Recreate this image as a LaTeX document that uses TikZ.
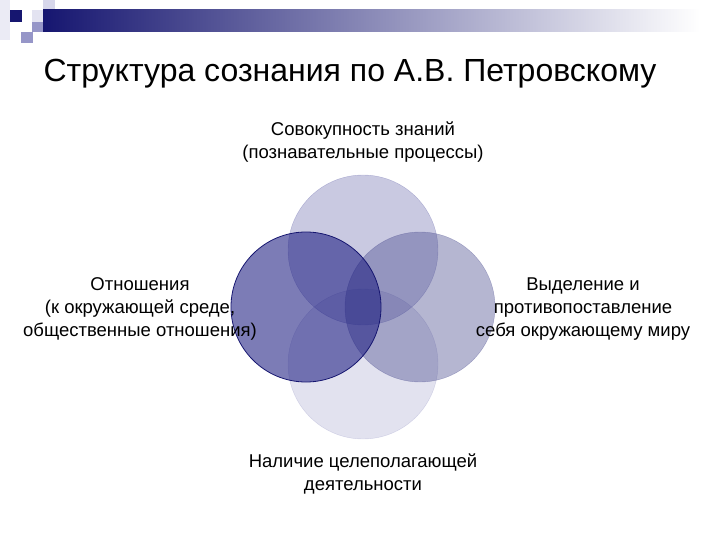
\documentclass[tikz,border=0pt]{standalone}
\usepackage{fontspec}
\setmainfont{Liberation Sans}
\definecolor{navy}{RGB}{30,30,130}
\definecolor{grnavy}{RGB}{70,72,140}
\definecolor{barnavy}{RGB}{22,22,112}
\definecolor{lav}{RGB}{150,150,200}
\definecolor{palelav}{RGB}{215,215,235}
\begin{document}
\begin{tikzpicture}[x=1pt,y=-1pt]
	\useasboundingbox (0,0) rectangle (720,540);
	
	\tikzstyle{mycircle}=[circle,
	fill=navy,
	draw=navy,
	inner sep=0pt,
	minimum size=150pt
	]
	\tikzstyle{mylabel}=[align=center,
	font=\fontsize{18.5}{23}\selectfont,
	text=black
	]
	
	% header decoration
	\fill[palelav!50] (0,0) rectangle (10,40);
	\fill[palelav] (43,0) rectangle (55,10);
	\fill[palelav!70] (32,10) rectangle (43,22);
	\fill[lav] (32,22) rectangle (43,32);
	\shade[left color=barnavy, right color=white] (43,10) rectangle (700,32);
	\fill[barnavy] (10,10) rectangle (22,22);
	\fill[lav] (21,32) rectangle (33,43);
	
	\node[font=\fontsize{32}{38}\selectfont, anchor=base] (title) at (350,82) {Структура сознания по А.В. Петровскому};
	
	\coordinate (ptop) at (363, 250);
	\coordinate (pbot) at (363, 364);
	\coordinate (pright) at (420, 307);
	\coordinate (pleft) at (306, 307);
	
	\node[mycircle, fill opacity=0.24, draw opacity=0.25] (top) at (ptop) {};
	\node[mycircle, fill opacity=0.13, draw opacity=0.15] (bot) at (pbot) {};
	\node[mycircle, fill=grnavy, draw=grnavy, fill opacity=0.4, draw opacity=0.4] (right) at (pright) {};
	\node[mycircle, fill opacity=0.58, draw=barnavy, thick] (left) at (pleft) {};
	
	\node[mylabel] (ltop) at (363,142) {Совокупность знаний\\(познавательные процессы)};
	\node[mylabel] (lleft) at (140,309) {Отношения\\(к окружающей среде,\\общественные отношения)};
	\node[mylabel] (lright) at (583,309) {Выделение и\\противопоставление\\себя окружающему миру};
	\node[mylabel] (lbot) at (363,474) {Наличие целеполагающей\\деятельности};
	
\end{tikzpicture}
\end{document}
